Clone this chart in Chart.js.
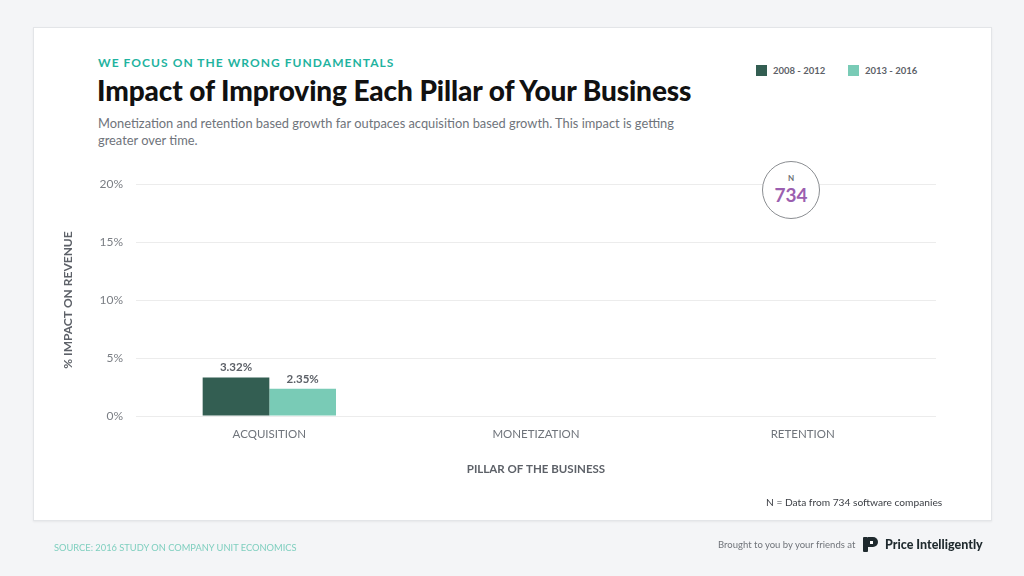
<!DOCTYPE html>
<html>
<head>
<meta charset="utf-8">
<script src="https://cdn.jsdelivr.net/npm/chart.js@4"></script>
<style>
  html, body { margin: 0; padding: 0; }
  body { width: 1024px; height: 576px; background: #f4f5f7; position: relative; overflow: hidden; font-family: Lato, "Open Sans", sans-serif; }
  .card { position: absolute; left: 33px; top: 27px; width: 957px; height: 492px; background: #fff; border: 1px solid #e3e5e8; box-shadow: 0 1px 2px rgba(0,0,0,0.06); }
  #chartWrap { position: absolute; left: 0; top: 0; width: 1024px; height: 576px; }
  .kicker { position: absolute; left: 98px; top: 55px; font-size: 12px; font-weight: 700; letter-spacing: 1.05px; color: #1fb39f; }
  .title { position: absolute; left: 97px; top: 73px; font-size: 28px; font-weight: 900; color: #111; letter-spacing: -0.1px; }
  .sub { position: absolute; left: 98px; top: 115px; width: 600px; font-size: 12.85px; line-height: 16.5px; color: #6f747b; }
  .legend { position: absolute; top: 65px; font-size: 9.5px; font-weight: 700; color: #5d6168; display: flex; align-items: center; }
  .legend span.sw { width: 11px; height: 11px; display: inline-block; margin-right: 6px; }
  .badge { position: absolute; left: 762px; top: 161px; width: 56px; height: 56px; border: 1.5px solid #8a8d91; border-radius: 50%; background: #fff; text-align: center; }
  .badge .n { font-size: 8px; font-weight: 700; color: #6b6f75; margin-top: 11px; }
  .badge .v { font-size: 19px; font-weight: 700; color: #9b5fb0; margin-top: 2px; line-height: 20px; }
  .note { position: absolute; left: 766px; top: 496px; font-size: 10.2px; color: #3d4046; }
  .source { position: absolute; left: 54px; top: 542px; font-size: 9.3px; color: #7fcfbf; }
  .brought { position: absolute; left: 718px; top: 539px; font-size: 9.5px; color: #70747a; }
  .brand { position: absolute; left: 862px; top: 535px; display: flex; align-items: center; font-size: 12.5px; font-weight: 900; color: #1f2a2e; }
</style>
</head>
<body>
<div class="card"></div>

<div class="kicker">WE FOCUS ON THE WRONG FUNDAMENTALS</div>
<div class="title">Impact of Improving Each Pillar of Your Business</div>
<div class="sub">Monetization and retention based growth far outpaces acquisition based growth. This impact is getting greater over time.</div>

<div class="legend" style="left:756px"><span class="sw" style="background:#335e52"></span>2008 - 2012</div>
<div class="legend" style="left:848px"><span class="sw" style="background:#79cbb6"></span>2013 - 2016</div>

<div id="chartWrap"><canvas id="chart" width="1024" height="576"></canvas></div>

<div class="badge"><div class="n">N</div><div class="v">734</div></div>

<div class="note">N = Data from 734 software companies</div>
<div class="source">SOURCE: 2016 STUDY ON COMPANY UNIT ECONOMICS</div>
<div class="brought">Brought to you by your friends at</div>
<div class="brand">
  <svg width="18" height="18" viewBox="0 0 18 18" style="margin-right:5px">
    <rect x="1" y="2" width="5" height="15" rx="1" fill="#1f2a2e"/>
    <path d="M6 2 h5 a5 5 0 0 1 0 10 h-5 z" fill="#1f2a2e"/>
    <rect x="8" y="6" width="3" height="3" fill="#fff"/>
  </svg>
  Price Intelligently
</div>

<script>
// ── Data ─────────────────────────────────────────────
const CATEGORIES = ['ACQUISITION', 'MONETIZATION', 'RETENTION'];
const SERIES_LABELS = ['2008 - 2012', '2013 - 2016'];
const EARLY = [3.32, null, null];
const LATE  = [2.35, null, null];
const Y_TICKS = [0, 5, 10, 15, 20];

const COLORS = ['#335e52', '#79cbb6'];
const FONT = "Lato, 'Open Sans', sans-serif";

// value labels above bars
const barLabels = {
  id: 'barLabels',
  afterDatasetsDraw(chart) {
    const ctx = chart.ctx;
    ctx.save();
    ctx.font = "700 11.5px " + FONT;
    ctx.fillStyle = '#5d6168';
    ctx.textAlign = 'center';
    ctx.textBaseline = 'bottom';
    chart.data.datasets.forEach((ds, i) => {
      chart.getDatasetMeta(i).data.forEach((bar, j) => {
        const v = ds.data[j];
        if (v == null) return;
        ctx.fillText(v.toFixed(2) + '%', bar.x, bar.y - 4);
      });
    });
    ctx.restore();
  }
};

new Chart(document.getElementById('chart'), {
  type: 'bar',
  data: {
    labels: CATEGORIES,
    datasets: [
      { label: SERIES_LABELS[0], data: EARLY, backgroundColor: COLORS[0] },
      { label: SERIES_LABELS[1], data: LATE,  backgroundColor: COLORS[1] },
    ],
  },
  options: {
    responsive: false,
    animation: false,
    layout: { padding: { left: 61, right: 88, top: 184, bottom: 96 } },
    datasets: { bar: { categoryPercentage: 0.5, barPercentage: 1 } },
    plugins: { legend: { display: false }, tooltip: { enabled: false } },
    scales: {
      x: {
        grid: { display: false },
        border: { display: false },
        ticks: { color: '#6f747b', font: { family: FONT, size: 11.5 }, padding: 3 },
        title: { display: true, text: 'PILLAR OF THE BUSINESS', color: '#5d6168', font: { family: FONT, size: 11.5, weight: '700' }, padding: { top: 14 } },
        afterFit(scale) { scale.height = 64; },
      },
      y: {
        min: 0, max: 20,
        afterBuildTicks(scale) { scale.ticks = Y_TICKS.map(v => ({ value: v })); },
        grid: { color: '#ececec', drawTicks: false },
        border: { display: false },
        ticks: { color: '#7a7e84', font: { family: FONT, size: 12 }, padding: 13, callback: v => v + '%' },
        title: { display: true, text: '% IMPACT ON REVENUE', color: '#5d6168', font: { family: FONT, size: 12, weight: '700' }, padding: 0 },
        afterFit(scale) { scale.width = 75; },
      },
    },
  },
  plugins: [barLabels],
});
</script>
</body>
</html>
